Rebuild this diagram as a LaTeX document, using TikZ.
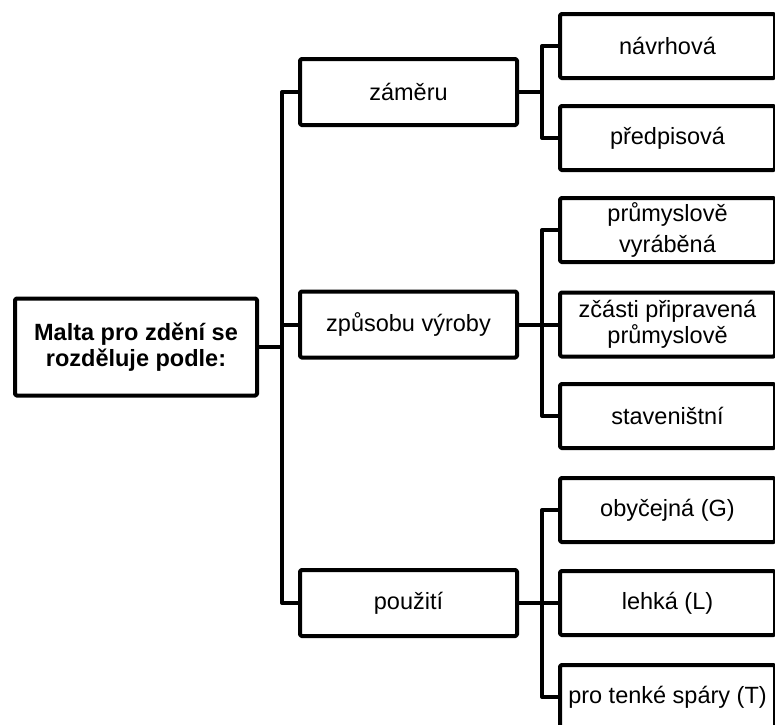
\documentclass[tikz,border=0pt]{standalone}
\usepackage{fontspec}
\setmainfont{Liberation Sans}
\begin{document}
\begin{tikzpicture}[x=1pt,y=-1pt,line width=4pt,line join=round,
    box/.style={draw,rounded corners=1.5pt,align=center,inner sep=2pt,
      font=\fontsize{23.5}{25.5}\selectfont},
    mid/.style={box,minimum width=217pt,minimum height=66pt},
    leaf/.style={box,minimum width=215pt,minimum height=64pt}]
  \useasboundingbox (0,0) rectangle (775,724);
  \clip (0,0) rectangle (775,724);
  % koren
  \node[box,minimum width=242pt,minimum height=97pt,
    font=\fontsize{23.5}{25.5}\selectfont\bfseries] (malta) at (136,347)
    {Malta pro zdění se\\rozděluje podle:};
  % prvni uroven
  \node[mid] (zameru) at (408.5,92) {záměru};
  \node[mid] (zpusob) at (408.5,324.5) {způsobu výroby};
  \node[mid] (pouziti) at (408.5,603) {použití};
  % druha uroven
  \node[leaf] (navrh) at (667.5,46) {návrhová};
  \node[leaf] (predpis) at (667.5,138) {předpisová};
  \node[leaf] (prum) at (667.5,230) {průmyslově\\[5pt]vyráběná};
  \node[leaf] (zcasti) at (667.5,324.5) {zčásti připravená\\průmyslově};
  \node[leaf] (stav) at (667.5,416) {staveništní};
  \node[leaf] (obyc) at (667.5,510) {obyčejná (G)};
  \node[leaf] (lehka) at (667.5,603) {lehká (L)};
  \node[leaf] (tenke) at (667.5,697) {pro tenké spáry (T)};
  % spojnice
  \foreach \a/\b in {malta/zameru,malta/zpusob,malta/pouziti,
      zameru/navrh,zameru/predpis,
      zpusob/prum,zpusob/zcasti,zpusob/stav,
      pouziti/obyc,pouziti/lehka,pouziti/tenke}
    {\draw (\a.east) -- ++(23pt,0) |- (\b.west);}
\end{tikzpicture}
\end{document}
